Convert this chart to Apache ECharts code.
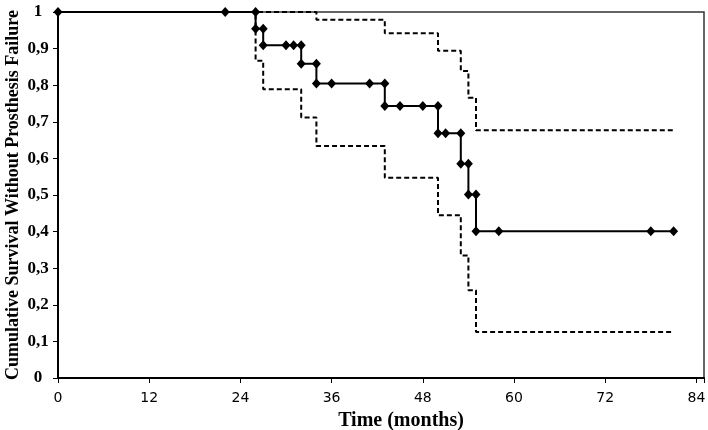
<!DOCTYPE html>
<html><head><meta charset="utf-8">
<script src="https://cdn.jsdelivr.net/npm/echarts@6/dist/echarts.min.js"></script>
<style>html,body{margin:0;padding:0;background:#fff}#c{width:708px;height:430px}</style>
</head><body><div id="c"></div>
<script>
// Kaplan-Meier estimate (points as plotted, markers at each point)
var mainT = [0, 22, 26, 26, 27, 27, 30, 31, 32, 32, 34, 34, 36, 41, 43, 43, 45, 48, 50, 50, 51, 53, 53, 54, 54, 55, 55, 58, 78, 81];
var mainS = [1, 1, 1, 0.9545, 0.9545, 0.9091, 0.9091, 0.9091, 0.9091, 0.8586, 0.8586, 0.8049, 0.8049, 0.8049, 0.8049, 0.743, 0.743, 0.743, 0.743, 0.6687, 0.6687, 0.6687, 0.5851, 0.5851, 0.5015, 0.5015, 0.4012, 0.4012, 0.4012, 0.4012];
// 95% confidence limits (step functions)
var upperT = [0, 34, 43, 50, 53, 54, 55, 81];
var upperS = [1, 0.979, 0.942, 0.894, 0.839, 0.766, 0.677, 0.677];
var lowerT = [0, 26, 27, 32, 34, 43, 50, 53, 54, 55, 81];
var lowerS = [1, 0.867, 0.789, 0.712, 0.634, 0.547, 0.445, 0.335, 0.240, 0.126, 0.126];
var xTicks = [0, 12, 24, 36, 48, 60, 72, 84];
var yTicks = [0, 0.1, 0.2, 0.3, 0.4, 0.5, 0.6, 0.7, 0.8, 0.9, 1];

function pairs(t, s) { return t.map(function (v, i) { return [v, s[i]]; }); }

var chart = echarts.init(document.getElementById('c'));
var xBase = {
  type: 'value', min: 0, max: 85, interval: 12, gridIndex: 0,
  splitLine: { show: false }
};
var yBase = {
  type: 'value', min: 0, max: 1, interval: 0.1, gridIndex: 0,
  splitLine: { show: false }
};
chart.setOption({
  animation: false,
  grid: {
    left: 58, right: 4, top: 12, bottom: 52, containLabel: false, outerBoundsMode: 'none',
    show: true, borderColor: '#333', borderWidth: 1.5, backgroundColor: 'transparent'
  },
  xAxis: [
    Object.assign({}, xBase, {
      name: 'Time (months)', nameLocation: 'middle', nameGap: 33, nameMoveOverlap: false,
      nameTextStyle: { fontFamily: 'Liberation Serif', fontWeight: 'bold', fontSize: 20, color: '#000', padding: [0, 0, 0, 40] },
      axisLine: { show: true, lineStyle: { color: '#000', width: 2 } },
      axisTick: { show: true, inside: false, length: 5, lineStyle: { color: '#000', width: 1 } },
      axisLabel: {
        margin: 13, color: '#000', fontFamily: 'DejaVu Sans', fontSize: 14,
        formatter: function (v) { return xTicks.indexOf(v) >= 0 ? String(v) : ''; }
      }
    }),
    Object.assign({}, xBase, {
      axisLine: { show: false },
      axisTick: { show: true, inside: true, length: 4, lineStyle: { color: '#000', width: 1 } },
      axisLabel: { show: false }
    })
  ],
  yAxis: [
    Object.assign({}, yBase, {
      name: 'Cumulative Survival Without Prosthesis Failure', nameLocation: 'middle', nameGap: 36, nameRotate: 90,
      nameMoveOverlap: false,
      nameTextStyle: { fontFamily: 'Liberation Serif', fontWeight: 'bold', fontSize: 18, color: '#000' },
      axisLine: { show: true, lineStyle: { color: '#000', width: 2 } },
      axisTick: { show: true, inside: false, length: 5, lineStyle: { color: '#000', width: 1 } },
      axisLabel: {
        margin: 20, align: 'center', color: '#000', fontFamily: 'Liberation Serif', fontWeight: 'bold', fontSize: 17,
        formatter: function (v) {
          var r = Math.round(v * 10) / 10;
          return yTicks.indexOf(r) >= 0 ? String(r).replace('.', ',') : '';
        }
      }
    }),
    Object.assign({}, yBase, {
      axisLine: { show: false },
      axisTick: { show: true, inside: true, length: 4, lineStyle: { color: '#000', width: 1 } },
      axisLabel: { show: false }
    })
  ],
  series: [
    {
      name: 'upper', type: 'line', xAxisIndex: 0, yAxisIndex: 0, step: 'end',
      data: pairs(upperT, upperS), showSymbol: false, symbol: 'none', z: 2,
      lineStyle: { color: '#000', width: 2, type: [5, 3] }
    },
    {
      name: 'lower', type: 'line', xAxisIndex: 0, yAxisIndex: 0, step: 'end',
      data: pairs(lowerT, lowerS), showSymbol: false, symbol: 'none', z: 2,
      lineStyle: { color: '#000', width: 2, type: [5, 3] }
    },
    {
      name: 'survival', type: 'line', xAxisIndex: 0, yAxisIndex: 0,
      data: pairs(mainT, mainS), symbol: 'diamond', symbolSize: [9, 10], z: 5,
      itemStyle: { color: '#000' },
      lineStyle: { color: '#000', width: 2 }
    }
  ]
});
</script>
</body></html>
